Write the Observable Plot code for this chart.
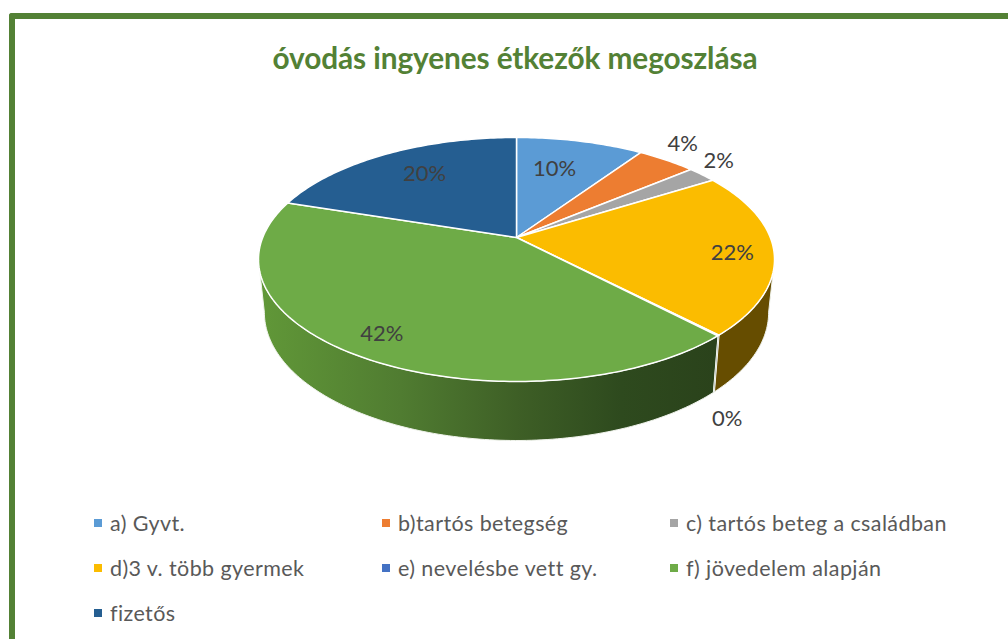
<!DOCTYPE html>
<html>
<head>
<meta charset="utf-8">
<script src="https://cdn.jsdelivr.net/npm/d3@7"></script>
<script src="https://cdn.jsdelivr.net/npm/@observablehq/plot@0.6"></script>
<style>
  html, body { margin: 0; padding: 0; background: #fff; width: 1008px; height: 639px; overflow: hidden; font-family: Lato, sans-serif; }
  #frame { position: absolute; left: 9px; top: 13px; width: 1100px; height: 700px; box-sizing: border-box; border-left: 6px solid #538135; border-top: 6px solid #538135; border-top-left-radius: 3px; }
  #title { position: absolute; left: 0; top: 38px; width: 1030px; text-align: center; font-size: 29.8px; font-weight: 700; color: #538135; line-height: 40px; letter-spacing: -0.1px; }
  #chart { position: absolute; left: 0; top: 85px; }
  #legend { position: absolute; left: 94px; top: 500px; display: grid; grid-template-columns: 288px 288px 300px; grid-auto-rows: 45px; color: #595959; font-size: 21.5px; letter-spacing: 0.4px; }
  #legend div { display: flex; align-items: center; height: 45px; white-space: nowrap; }
  #legend i { display: block; width: 8px; height: 8px; margin-right: 8px; flex: none; }
</style>
</head>
<body>
<div id="frame"></div>
<div id="title">óvodás ingyenes étkezők megoszlása</div>
<div id="chart"></div>
<div id="legend"></div>
<script>
const categories = ["a) Gyvt.", "b)tartós betegség", "c) tartós beteg a családban", "d)3 v. több gyermek", "e) nevelésbe vett gy.", "f) jövedelem alapján", "fizetős"];
const shares = [9.5, 4.4, 2.2, 21.7, 0.1, 42.1, 20];
const sliceColors = ["#5b9bd5", "#ed7d31", "#a5a5a5", "#fbbc00", "#4472c4", "#6eab47", "#255e91"];
const wallColors = ["#664d00", "#664d00", "#664d00", "#664d00", "#223a5e", "url(#greenWall)", "#163a58"];

// Label placement, relative to each slice's middle
const labelRadius = [0.674, 1.2, 1.166, 0.841, 1.37, 0.851, 0.722];
const labelShift = [-2.7, -2.6, -3.3, 1.5, 15.4, 0.7, 2.2];

// Perspective view of the disc: top rim and bottom rim
const persp = -0.18;
const topRim = {cx: 516, D: 253.8, A: 75.4, B: 237};
const botRim = {cx: 516, D: 248, A: 71.9, B: 288.9};
const project = (rim, r, deg) => {
  const t = deg * Math.PI / 180;
  const u = r * Math.sin(t), v = -r * Math.cos(t);
  const w = 1 + persp * v;
  return {x: rim.cx + rim.D * u / w, y: (rim.A * v + rim.B) / w};
};

const pie = d3.pie().sort(null).startAngle(0).endAngle(2 * Math.PI)(shares);
const deg = a => a * 180 / Math.PI;
const slices = pie.map((p, i) => ({i, start: deg(p.startAngle), end: deg(p.endAngle), mid: deg(p.startAngle + p.endAngle) / 2}));

const wallLeft = 259.6, wallRight = 100.4; // where the rim turns away
const greenStops = [[258, "#619838"], [400, "#507c31"], [516, "#3e5f26"], [620, "#2e4a1e"], [720, "#2a421b"]];

// Top faces
const topRows = [];
for (const s of slices) {
  topRows.push({key: "s" + s.i, ...project(topRim, 0, 0), fill: sliceColors[s.i]});
  const n = Math.max(1, Math.ceil(s.end - s.start));
  for (let k = 0; k <= n; ++k) {
    topRows.push({key: "s" + s.i, ...project(topRim, 1, s.start + (s.end - s.start) * k / n), fill: sliceColors[s.i]});
  }
}

// Side walls: one closed outline per slice that faces the viewer
const wallRows = [];
for (const s of slices) {
  const a = Math.max(s.start, wallRight), b = Math.min(s.end, wallLeft);
  if (b <= a) continue;
  const n = Math.max(1, Math.ceil(b - a));
  const top = [], bot = [];
  for (let k = 0; k <= n; ++k) {
    const t = a + (b - a) * k / n;
    top.push(project(topRim, 1, t));
    bot.push(project(botRim, 1, t));
  }
  for (const p of [...top, ...bot.reverse()]) wallRows.push({key: "w" + s.i, x: p.x, y: p.y, fill: wallColors[s.i]});
}

const labelRows = slices.map(s => ({
  ...project(topRim, labelRadius[s.i], s.mid + labelShift[s.i]),
  text: Math.round(shares[s.i]) + "%"
}));

const gradientDefs = () => {
  const defs = d3.create("svg:defs");
  const g = defs.append("linearGradient").attr("id", "greenWall")
    .attr("gradientUnits", "userSpaceOnUse")
    .attr("x1", greenStops[0][0]).attr("x2", greenStops[greenStops.length - 1][0])
    .attr("y1", 0).attr("y2", 0);
  const x0 = greenStops[0][0], x1 = greenStops[greenStops.length - 1][0];
  for (const [x, c] of greenStops) g.append("stop").attr("offset", (x - x0) / (x1 - x0)).attr("stop-color", c);
  return defs.node();
};

const svgTop = 85, svgHeight = 385;
const chart = Plot.plot({
  width: 1008, height: svgHeight,
  margin: 0,
  x: {domain: [0, 1008], range: [0, 1008], axis: null},
  y: {domain: [svgTop, svgTop + svgHeight], range: [0, svgHeight], axis: null},
  marks: [
    gradientDefs,
    Plot.line(wallRows, {x: "x", y: "y", z: "key", curve: "linear-closed", fill: {value: "fill", scale: null}, stroke: "#f0f3ec", strokeWidth: 1, strokeLinejoin: "round"}),
    Plot.line(topRows, {x: "x", y: "y", z: "key", curve: "linear-closed", fill: {value: "fill", scale: null}, stroke: "#ffffff", strokeWidth: 1.5, strokeLinejoin: "round"}),
    Plot.text(labelRows, {x: "x", y: "y", text: "text", fill: "#404040", fontSize: 22, fontFamily: "Lato, sans-serif", textAnchor: "middle", lineAnchor: "middle"})
  ]
});
document.getElementById("chart").append(chart);

const legend = d3.select("#legend");
categories.forEach((c, i) => {
  const row = legend.append("div");
  row.append("i").style("background", sliceColors[i]);
  row.append("span").text(c);
});
</script>
</body>
</html>
